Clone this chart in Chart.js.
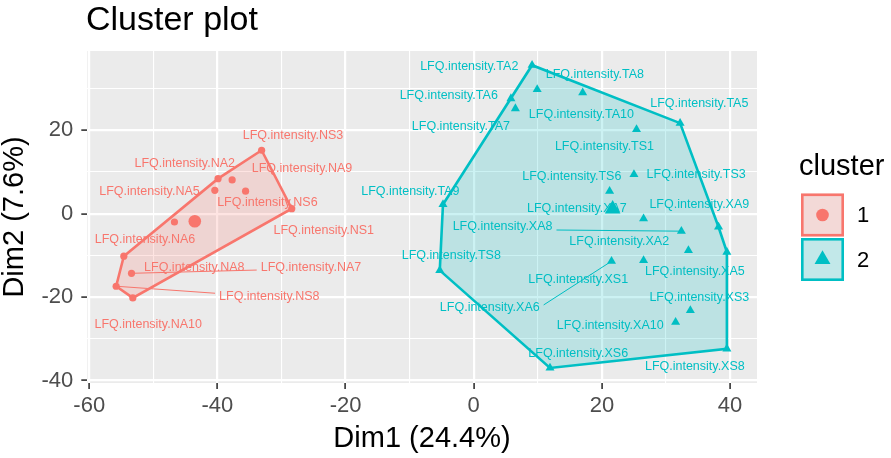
<!DOCTYPE html>
<html>
<head>
<meta charset="utf-8">
<script src="https://cdn.jsdelivr.net/npm/chart.js@4.4.0/dist/chart.umd.min.js"></script>
<style>
  html, body { margin: 0; padding: 0; background: #ffffff; }
  #wrap { width: 891px; height: 458px; }
</style>
</head>
<body>
<div id="wrap"><canvas id="clusterPlot" width="891" height="458"></canvas></div>
<script>
// --- cluster 1 (red) samples ---
const names1 = ['NS3', 'NA2', 'NA9', 'NA5', 'NS6', 'NS1', 'NA8', 'NA6', 'NA7', 'NS8', 'NA10'];
const dim1C1 = [-33.1, -39.9, -37.7, -40.4, -35.6, -28.4, -46.7, -54.6, -53.4, -55.8, -53.2];
const dim2C1 = [15.2, 8.4, 8.1, 5.6, 5.4, 1.2, -2.0, -10.2, -14.3, -17.4, -20.2];
const labelX1 = [-28.2, -45.1, -26.8, -50.6, -32.2, -23.4, -43.6, -51.3, -25.4, -31.9, -50.8];
const labelY1 = [18.8, 12.1, 10.9, 5.4, 2.6, -4.0, -12.8, -6.2, -12.8, -19.8, -26.6];

// --- cluster 2 (cyan) samples ---
const names2 = ['TA2', 'TA8', 'TA6', 'TA10', 'TA7', 'TA5', 'TS1', 'TS3', 'TS6', 'TA9', 'XA7',
                'XA9', 'XA8', 'XA2', 'XA5', 'TS8', 'XS1', 'XA6', 'XS3', 'XA10', 'XS8', 'XS6'];
const dim1C2 = [9.1, 17.0, 5.8, 9.9, 6.5, 32.2, 25.4, 25.0, 21.2, -4.8, 26.5,
                38.2, 32.4, 33.5, 39.5, -5.3, 26.5, 21.5, 33.8, 31.5, 39.5, 11.9];
const dim2C2 = [35.6, 29.0, 27.6, 29.8, 25.2, 21.7, 20.2, 9.4, 5.4, 2.2, -1.2,
                -3.2, -4.2, -8.8, -9.2, -13.6, -11.2, -11.4, -23.2, -26.0, -32.4, -37.0];
const labelX2 = [-0.7, 18.9, -3.9, 16.8, -2.0, 35.2, 20.4, 34.7, 15.3, -9.9, 16.1,
                 35.2, 4.5, 22.7, 34.5, -3.5, 16.3, 2.5, 35.2, 21.3, 34.5, 16.3];
const labelY2 = [35.3, 33.4, 28.4, 23.8, 20.8, 26.5, 16.0, 9.4, 9.0, 5.4, 1.2,
                 2.2, -3.2, -6.8, -13.8, -10.0, -15.8, -22.6, -20.0, -26.8, -36.6, -33.6];

// labels pushed far enough to get a connector segment
const segmentLabels = ['NA7', 'NS8', 'XA8', 'XA6'];

// axes
const xTicks = [-60, -40, -20, 0, 20, 40];
const xMinor = [-50, -30, -10, 10, 30];
const yTicks = [-40, -20, 0, 20];
const yMinor = [-30, -10, 10, 30];
const clusters = ['1', '2'];

const RED = '#F8766D';
const CYAN = '#00BFC4';
const FONT = '"Liberation Sans", Arial, Helvetica, sans-serif';

const toPoints = (xs, ys) => xs.map((v, i) => ({ x: v, y: ys[i] }));
const mean = a => a.reduce((s, v) => s + v, 0) / a.length;

// convex hull (monotone chain), closed
function convexHull(xs, ys) {
    const pts = toPoints(xs, ys).sort((a, b) => a.x - b.x || a.y - b.y);
    const cross = (o, a, b) => (a.x - o.x) * (b.y - o.y) - (a.y - o.y) * (b.x - o.x);
    const lower = [], upper = [];
    for (const p of pts) {
        while (lower.length >= 2 && cross(lower[lower.length - 2], lower[lower.length - 1], p) <= 0) lower.pop();
        lower.push(p);
    }
    for (const p of pts.slice().reverse()) {
        while (upper.length >= 2 && cross(upper[upper.length - 2], upper[upper.length - 1], p) <= 0) upper.pop();
        upper.push(p);
    }
    lower.pop(); upper.pop();
    const h = lower.concat(upper);
    h.push(h[0]);
    return h;
}

const groups = [
    { names: names1, dx: dim1C1, dy: dim2C1, lx: labelX1, ly: labelY1, color: RED },
    { names: names2, dx: dim1C2, dy: dim2C2, lx: labelX2, ly: labelY2, color: CYAN }
];

const isMajorX = v => xTicks.includes(v);
const isMajorY = v => yTicks.includes(v);

// grey panel + white page
const panelPlugin = {
    id: 'panel',
    beforeDraw(chart) {
        const { ctx, chartArea: a } = chart;
        ctx.save();
        ctx.fillStyle = '#FFFFFF';
        ctx.fillRect(0, 0, chart.width, chart.height);
        ctx.fillStyle = '#EBEBEB';
        ctx.fillRect(a.left, a.top, a.right - a.left, a.bottom - a.top);
        ctx.restore();
    }
};

// sample labels (under points and hulls, like the ggplot layer order)
const labelPlugin = {
    id: 'sampleLabels',
    beforeDatasetsDraw(chart) {
        const { ctx, scales: { x, y } } = chart;
        ctx.save();
        ctx.font = '12.5px ' + FONT;
        ctx.textAlign = 'center';
        ctx.textBaseline = 'middle';
        groups.forEach(g => {
            g.names.forEach((n, i) => {
                const text = 'LFQ.intensity.' + n;
                const lx = x.getPixelForValue(g.lx[i]);
                const ly = y.getPixelForValue(g.ly[i]);
                if (segmentLabels.includes(n)) {
                    const w = ctx.measureText(text).width;
                    const px = x.getPixelForValue(g.dx[i]);
                    const py = y.getPixelForValue(g.dy[i]);
                    const ex = Math.max(lx - w / 2 - 4, Math.min(px, lx + w / 2 + 4));
                    const ey = Math.max(ly - 3, Math.min(py, ly + 3));
                    ctx.strokeStyle = g.color;
                    ctx.lineWidth = 1;
                    ctx.beginPath();
                    ctx.moveTo(px, py);
                    ctx.lineTo(ex, ey);
                    ctx.stroke();
                }
                ctx.fillStyle = g.color;
                ctx.fillText(text, lx, ly);
            });
        });
        ctx.restore();
    }
};

// titles and legend
const textPlugin = {
    id: 'texts',
    afterDraw(chart) {
        const { ctx } = chart;
        ctx.save();
        ctx.fillStyle = '#000000';
        ctx.textBaseline = 'alphabetic';

        ctx.font = '34px ' + FONT;
        ctx.textAlign = 'left';
        ctx.fillText('Cluster plot', 86, 29.5);

        ctx.font = '29px ' + FONT;
        ctx.textAlign = 'center';
        ctx.fillText('Dim1 (24.4%)', 422, 446.5);

        ctx.save();
        ctx.translate(22.5, 217);
        ctx.rotate(-Math.PI / 2);
        ctx.fillText('Dim2 (7.6%)', 0, 0);
        ctx.restore();

        // legend
        ctx.textAlign = 'left';
        ctx.fillText('cluster', 799, 175);
        const keyFill = ['rgb(243,217,215)', 'rgb(194,232,233)'];
        const keyLine = [RED, CYAN];
        clusters.forEach((c, i) => {
            const kx = 801, ky = 193.5 + i * 44.5, ks = 43;
            ctx.fillStyle = keyFill[i];
            ctx.fillRect(kx, ky, ks, ks);
            ctx.strokeStyle = keyLine[i];
            ctx.lineWidth = 2.6;
            ctx.strokeRect(kx + 1.3, ky + 1.3, ks - 2.6, ks - 2.6);
            const cx = kx + ks / 2, cy = ky + ks / 2;
            ctx.fillStyle = keyLine[i];
            ctx.beginPath();
            if (i === 0) {
                ctx.arc(cx, cy, 6.3, 0, Math.PI * 2);
            } else {
                const r = 9.2;
                ctx.moveTo(cx, cy - r);
                ctx.lineTo(cx + r * Math.sin(Math.PI * 2 / 3), cy + r / 2);
                ctx.lineTo(cx - r * Math.sin(Math.PI * 2 / 3), cy + r / 2);
                ctx.closePath();
            }
            ctx.fill();
            ctx.fillStyle = '#000000';
            ctx.font = '22px ' + FONT;
            ctx.textBaseline = 'middle';
            ctx.fillText(c, 857, cy + 1);
            ctx.textBaseline = 'alphabetic';
        });
        ctx.restore();
    }
};

const gridOpts = isMajor => ({
    color: '#FFFFFF',
    lineWidth: c => isMajor(c.tick.value) ? 2.2 : 1.1,
    tickColor: c => isMajor(c.tick.value) ? '#333333' : 'rgba(0,0,0,0)',
    tickWidth: 1.6,
    tickLength: 6,
    drawTicks: true
});

const ctx = document.getElementById('clusterPlot').getContext('2d');
new Chart(ctx, {
    type: 'scatter',
    data: {
        datasets: [
            {
                label: 'hull 1',
                data: convexHull(dim1C1, dim2C1),
                showLine: true,
                fill: 'shape',
                tension: 0,
                backgroundColor: 'rgba(248,118,109,0.2)',
                borderColor: RED,
                borderWidth: 2.6,
                pointRadius: 0,
                order: 0
            },
            {
                label: 'hull 2',
                data: convexHull(dim1C2, dim2C2),
                showLine: true,
                fill: 'shape',
                tension: 0,
                backgroundColor: 'rgba(0,191,196,0.2)',
                borderColor: CYAN,
                borderWidth: 2.6,
                pointRadius: 0,
                order: 0
            },
            {
                label: 'centre 1',
                data: [{ x: mean(dim1C1), y: mean(dim2C1) }],
                pointStyle: 'circle',
                pointRadius: 6.3,
                pointBorderWidth: 0,
                backgroundColor: RED,
                order: 1
            },
            {
                label: 'centre 2',
                data: [{ x: mean(dim1C2), y: mean(dim2C2) }],
                pointStyle: 'triangle',
                pointRadius: 9,
                pointBorderWidth: 0,
                backgroundColor: CYAN,
                order: 1
            },
            {
                label: '1',
                data: toPoints(dim1C1, dim2C1),
                pointStyle: 'circle',
                pointRadius: 3.6,
                pointBorderWidth: 0,
                backgroundColor: RED,
                order: 2
            },
            {
                label: '2',
                data: toPoints(dim1C2, dim2C2),
                pointStyle: 'triangle',
                pointRadius: 5.2,
                pointBorderWidth: 0,
                backgroundColor: CYAN,
                order: 2
            }
        ]
    },
    options: {
        responsive: false,
        animation: false,
        devicePixelRatio: 1,
        layout: { padding: { top: 51, right: 134, left: 0, bottom: 0 } },
        plugins: {
            legend: { display: false },
            tooltip: { enabled: false },
            title: { display: false }
        },
        scales: {
            x: {
                type: 'linear',
                min: -60.3,
                max: 44.2,
                afterFit: s => { s.height = 75; },
                afterBuildTicks: s => { s.ticks = xTicks.concat(xMinor).sort((a, b) => a - b).map(v => ({ value: v })); },
                grid: gridOpts(isMajorX),
                border: { display: false },
                ticks: {
                    autoSkip: false,
                    maxRotation: 0,
                    padding: 4,
                    color: '#4D4D4D',
                    font: { family: FONT, size: 22 },
                    callback: v => isMajorX(v) ? String(v) : ''
                }
            },
            y: {
                type: 'linear',
                min: -40.6,
                max: 39.0,
                afterFit: s => { s.width = 87.3; },
                afterBuildTicks: s => { s.ticks = yTicks.concat(yMinor).sort((a, b) => a - b).map(v => ({ value: v })); },
                grid: gridOpts(isMajorY),
                border: { display: false },
                ticks: {
                    autoSkip: false,
                    padding: 8,
                    color: '#4D4D4D',
                    font: { family: FONT, size: 22 },
                    callback: v => isMajorY(v) ? String(v) : ''
                }
            }
        }
    },
    plugins: [panelPlugin, labelPlugin, textPlugin]
});
</script>
</body>
</html>
